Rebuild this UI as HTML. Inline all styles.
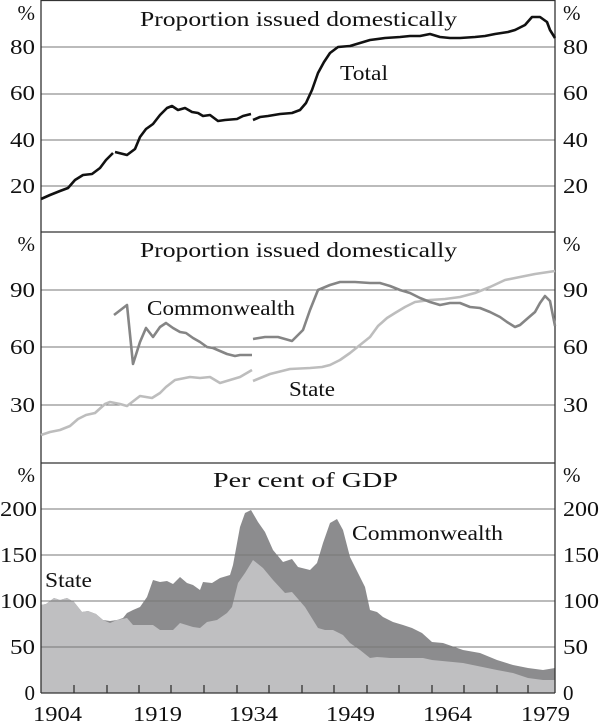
<!DOCTYPE html>
<html><head><meta charset="utf-8"><style>
html,body{margin:0;padding:0;background:#fff;}
svg{display:block;}
text{font-family:"Liberation Serif",serif;fill:#111;}
</style></head><body>
<svg width="600" height="724" viewBox="0 0 600 724" xmlns="http://www.w3.org/2000/svg">
<!-- panel 3 areas -->
<polygon fill="#8c8c8e" points="41,693 41,605 46,604 54,598 60,600 67,598 74,602 82,612 88,611 96,614 103,620 110,621 117,620 123,618 127,613 133,610 140,607 147,597 153,580 160,582 167,581 173,584 180,577 187,583 193,585 200,590 203,582 212,583 220,578 230,575 233,565 240,527 245,513 251,510 258,522 265,532 273,550 283,562 292,559 298,567 310,570 317,563 323,543 330,523 337,519 343,530 350,557 358,573 365,587 370,610 377,612 383,617 393,622 403,625 412,628 422,633 432,642 443,643 463,650 480,653 497,660 513,665 528,668 543,670 555,668 555,693"/>
<polygon fill="#bfbfc1" points="41,693 41,605 46,604 54,598 60,600 67,598 74,602 82,612 88,611 96,614 103,620 110,623 117,620 127,618 133,625 153,625 160,630 173,630 180,623 193,627 200,628 207,622 217,620 227,613 232,607 238,583 245,573 253,560 263,568 273,580 285,593 292,592 305,607 318,628 325,630 333,630 343,635 350,643 360,650 370,658 377,657 390,658 407,658 423,658 432,660 463,663 497,670 513,673 528,678 543,680 555,680 555,693"/>
<!-- gridlines -->
<g stroke="#777" stroke-width="1">
<line x1="41" y1="47" x2="555" y2="47"/><line x1="41" y1="94" x2="555" y2="94"/><line x1="41" y1="140" x2="555" y2="140"/><line x1="41" y1="186" x2="555" y2="186"/>
<line x1="41" y1="290" x2="555" y2="290"/><line x1="41" y1="347" x2="555" y2="347"/><line x1="41" y1="405" x2="555" y2="405"/>
<line x1="41" y1="509" x2="555" y2="509"/><line x1="41" y1="555" x2="555" y2="555"/><line x1="41" y1="601" x2="555" y2="601"/><line x1="41" y1="647" x2="555" y2="647"/>
</g>
<g stroke="#333" stroke-width="1.3" fill="none">
<line x1="41" y1="0.5" x2="555" y2="0.5"/><line x1="41" y1="232" x2="555" y2="232"/><line x1="41" y1="463" x2="555" y2="463"/><line x1="41" y1="693" x2="555" y2="693"/>
<line x1="41" y1="0" x2="41" y2="693"/><line x1="555" y1="0" x2="555" y2="693"/>
<path d="M74,693v-8M107,693v-8M139,693v-8M171,693v-8M204,693v-8M237,693v-8M269,693v-8M302,693v-8M334,693v-8M367,693v-8M399,693v-8M432,693v-8M464,693v-8M497,693v-8M528,693v-8"/>
</g>
<!-- panel 1 -->
<g fill="none" stroke="#111" stroke-width="2.6" stroke-linejoin="round">
<polyline points="41,199 50,195 60,191 68,188 75,180 83,175 92,174 100,168 106,160 113,153"/>
<polyline points="115,152 127,155 135,149 140,137 146,129 153,124 160,115 167,108 172,106 178,110 185,108 192,112 198,113 203,116 210,115 218,121 225,120 237,119 243,116 251,114"/>
<polyline points="253,120 260,117 268,116 280,114 292,113 300,110 306,103 312,90 318,73 324,62 330,53 338,47 350,46 360,43 370,40 385,38 400,37 410,36 420,36 430,34 440,37 450,38 460,38 475,37 485,36 495,34 508,32 515,30 525,25 532,17 540,17 547,22 550,30 555,38"/>
</g>
<!-- panel 2 -->
<g fill="none" stroke="#bdbdbd" stroke-width="2.6" stroke-linejoin="round">
<polyline points="41,435 50,432 60,430 70,426 78,419 86,415 95,413 105,404 110,402 120,404 127,406 140,396 152,398 160,393 166,387 175,380 190,377 200,378 210,377 220,383 230,380 240,377 252,370"/>
<polyline points="253,381 270,374 290,369 310,368 322,367 330,365 340,360 350,353 360,345 370,337 378,326 387,318 395,313 405,307 415,302 430,300 445,299 460,297 475,293 490,287 505,280 520,277 535,274 555,271"/>
</g>
<g fill="none" stroke="#858585" stroke-width="2.6" stroke-linejoin="round">
<polyline points="114,315 127,305 133,364 140,342 146,328 153,337 160,327 166,323 173,328 180,332 186,333 193,338 200,342 207,347 213,348 220,351 227,354 235,356 240,355 252,355"/>
<polyline points="253,339 265,337 278,337 292,341 303,330 310,310 318,290 330,285 340,282 355,282 370,283 380,283 390,286 400,290 410,293 420,298 430,302 440,305 450,303 460,303 470,307 480,308 490,312 500,317 507,322 515,327 520,325 528,318 535,312 540,303 545,296 550,301 555,326"/>
</g>
<!-- text -->
<g font-size="21">
<text x="140" y="26" textLength="317" lengthAdjust="spacingAndGlyphs">Proportion issued domestically</text>
<text x="140" y="257" textLength="317" lengthAdjust="spacingAndGlyphs">Proportion issued domestically</text>
<text x="213" y="487" textLength="185" lengthAdjust="spacingAndGlyphs">Per cent of GDP</text>
<text x="340" y="80" textLength="48" lengthAdjust="spacingAndGlyphs">Total</text>
<text x="147" y="315" textLength="148" lengthAdjust="spacingAndGlyphs">Commonwealth</text>
<text x="289" y="396" textLength="46" lengthAdjust="spacingAndGlyphs">State</text>
<text x="352" y="540" textLength="151" lengthAdjust="spacingAndGlyphs">Commonwealth</text>
<text x="45" y="587" textLength="47" lengthAdjust="spacingAndGlyphs">State</text>
</g>
<g font-size="21" text-anchor="end">
<text x="35" y="20">%</text><text x="35" y="54" textLength="25" lengthAdjust="spacingAndGlyphs">80</text><text x="35" y="100" textLength="25" lengthAdjust="spacingAndGlyphs">60</text><text x="35" y="147" textLength="25" lengthAdjust="spacingAndGlyphs">40</text><text x="35" y="193" textLength="25" lengthAdjust="spacingAndGlyphs">20</text>
<text x="35" y="251">%</text><text x="35" y="297" textLength="25" lengthAdjust="spacingAndGlyphs">90</text><text x="35" y="354" textLength="25" lengthAdjust="spacingAndGlyphs">60</text><text x="35" y="412" textLength="25" lengthAdjust="spacingAndGlyphs">30</text>
<text x="35" y="482">%</text><text x="37" y="516" textLength="37" lengthAdjust="spacingAndGlyphs">200</text><text x="37" y="562" textLength="37" lengthAdjust="spacingAndGlyphs">150</text><text x="37" y="608" textLength="37" lengthAdjust="spacingAndGlyphs">100</text><text x="35" y="654" textLength="25" lengthAdjust="spacingAndGlyphs">50</text><text x="35" y="700">0</text>
</g>
<g font-size="21">
<text x="563" y="20">%</text><text x="563" y="54" textLength="25" lengthAdjust="spacingAndGlyphs">80</text><text x="563" y="100" textLength="25" lengthAdjust="spacingAndGlyphs">60</text><text x="563" y="147" textLength="25" lengthAdjust="spacingAndGlyphs">40</text><text x="563" y="193" textLength="25" lengthAdjust="spacingAndGlyphs">20</text>
<text x="563" y="251">%</text><text x="563" y="297" textLength="25" lengthAdjust="spacingAndGlyphs">90</text><text x="563" y="354" textLength="25" lengthAdjust="spacingAndGlyphs">60</text><text x="563" y="412" textLength="25" lengthAdjust="spacingAndGlyphs">30</text>
<text x="563" y="482">%</text><text x="563" y="516" textLength="36" lengthAdjust="spacingAndGlyphs">200</text><text x="563" y="562" textLength="36" lengthAdjust="spacingAndGlyphs">150</text><text x="563" y="608" textLength="36" lengthAdjust="spacingAndGlyphs">100</text><text x="563" y="654" textLength="25" lengthAdjust="spacingAndGlyphs">50</text><text x="563" y="700">0</text>
</g>
<g font-size="21">
<text x="33" y="721" textLength="49" lengthAdjust="spacingAndGlyphs">1904</text><text x="133" y="721" textLength="49" lengthAdjust="spacingAndGlyphs">1919</text><text x="229" y="721" textLength="49" lengthAdjust="spacingAndGlyphs">1934</text><text x="326" y="721" textLength="49" lengthAdjust="spacingAndGlyphs">1949</text><text x="423" y="721" textLength="49" lengthAdjust="spacingAndGlyphs">1964</text><text x="521" y="721" textLength="49" lengthAdjust="spacingAndGlyphs">1979</text>
</g>
</svg>
</body></html>
